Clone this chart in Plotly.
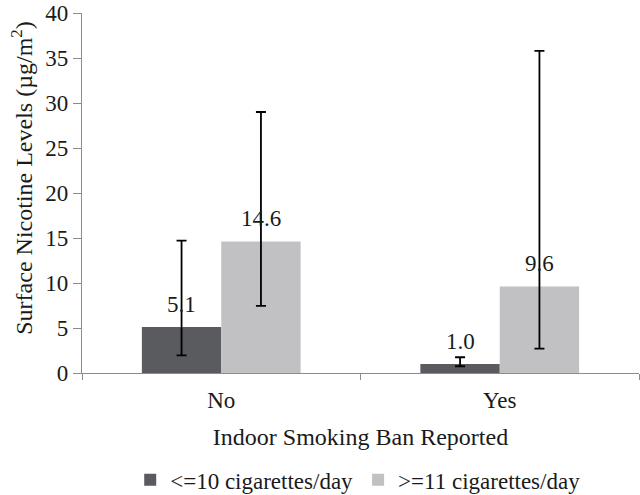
import plotly.graph_objects as go

categories = ["No", "Yes"]
series_names = ["<=10 cigarettes/day", ">=11 cigarettes/day"]
low_values = [5.1, 1.0]
high_values = [14.6, 9.6]
low_err_upper = [14.7, 1.75]
low_err_lower = [1.95, 0.75]
high_err_upper = [29.0, 35.8]
high_err_lower = [7.45, 2.7]
label_text_low = ["5.1", "1.0"]
label_text_high = ["14.6", "9.6"]
y_ticks = [0, 5, 10, 15, 20, 25, 30, 35, 40]

FONT = "Liberation Serif"
dark = "#5a5b5f"
light = "#c1c1c3"
axis_col = "#8c8c8c"
txt_col = "#1a1a1a"

fig = go.Figure()

def add_series(name, vals, up, lo, color):
    fig.add_trace(go.Bar(
        x=categories, y=vals, name=name, marker=dict(color=color, line=dict(width=0)),
        error_y=dict(type="data", symmetric=False,
                     array=[u - v for u, v in zip(up, vals)],
                     arrayminus=[v - l for v, l in zip(vals, lo)],
                     color="black", thickness=1.8, width=5),
    ))

add_series(series_names[0], low_values, low_err_upper, low_err_lower, dark)
add_series(series_names[1], high_values, high_err_upper, high_err_lower, light)

bargap = 0.43
half = (1 - bargap) / 4
for i, cat in enumerate(categories):
    for vals, txt, off in ((low_values, label_text_low, -half), (high_values, label_text_high, half)):
        fig.add_annotation(x=i + off, y=vals[i], xref="x", yref="y", text=txt[i],
                           showarrow=False, yshift=23, yanchor="middle",
                           font=dict(family=FONT, size=23, color=txt_col))

# y-axis title
fig.add_annotation(text="Surface Nicotine Levels (µg/m<sup>2</sup>)", textangle=-90,
                   xref="paper", yref="paper", x=-0.108, y=0.542,
                   xanchor="center", yanchor="middle", showarrow=False,
                   font=dict(family=FONT, size=24, color=txt_col))

fig.update_layout(
    width=640, height=495,
    margin=dict(l=82, r=1, t=13, b=122, autoexpand=False),
    paper_bgcolor="white", plot_bgcolor="white",
    barmode="group", bargap=bargap, bargroupgap=0,
    font=dict(family=FONT, size=23, color=txt_col),
    showlegend=True,
    legend=dict(orientation="h", x=0.495, xanchor="center", y=-0.297, yanchor="middle",
                font=dict(family=FONT, size=23, color=txt_col), itemwidth=30,
                tracegroupgap=0),
    xaxis=dict(type="category", showline=True, linecolor=axis_col, linewidth=1.3,
               ticks="outside", tickson="boundaries", tickcolor=axis_col, ticklen=6,
               ticklabelstandoff=6,
               showgrid=False, tickfont=dict(family=FONT, size=23, color=txt_col),
               automargin=False,
               title=dict(text="Indoor Smoking Ban Reported", standoff=16,
                          font=dict(family=FONT, size=24, color=txt_col))),
    yaxis=dict(range=[0, 40], tickvals=y_ticks, showline=True, linecolor=axis_col,
               linewidth=1.3, ticks="outside", tickcolor=axis_col, ticklen=8,
               showgrid=False, zeroline=False,
               tickfont=dict(family=FONT, size=23, color=txt_col),
               automargin=False),
)

fig.write_html("out.html", config={"displayModeBar": False},
               post_script="document.body.style.margin='0';")
